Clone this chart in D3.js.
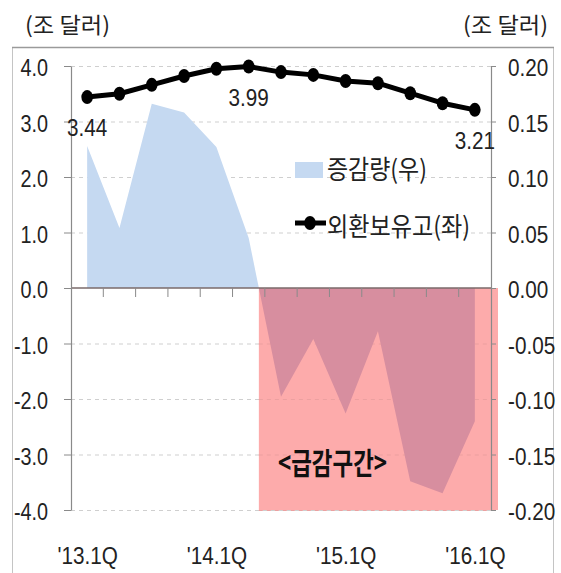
<!DOCTYPE html>
<html>
<head>
<meta charset="utf-8">
<script src="https://cdn.jsdelivr.net/npm/d3@7"></script>
<style>
  body { margin: 0; background: #fff; }
  svg { display: block; }
</style>
</head>
<body>
<svg id="chart" width="561" height="573"></svg>
<script>
// Quarterly FX reserves (trillion USD, left axis) and their quarter-on-quarter change (right axis)
const quarters = ["'13.1Q", "'13.2Q", "'13.3Q", "'13.4Q", "'14.1Q", "'14.2Q", "'14.3Q",
                  "'14.4Q", "'15.1Q", "'15.2Q", "'15.3Q", "'15.4Q", "'16.1Q"];
const reserves = [3.44, 3.50, 3.66, 3.82, 3.95, 3.99, 3.89, 3.84, 3.73, 3.69, 3.51, 3.33, 3.21];
const changes = [0.128, 0.054, 0.166, 0.158, 0.127, 0.045, -0.098, -0.046, -0.113, -0.039, -0.174, -0.185, -0.120];
const labeledPoints = [0, 5, 12];
const leftTicks = [4, 3, 2, 1, 0, -1, -2, -3, -4];
const rightTicks = [0.20, 0.15, 0.10, 0.05, 0, -0.05, -0.10, -0.15, -0.20];
const xTickLabels = ["'13.1Q", "'14.1Q", "'15.1Q", "'16.1Q"];
const unitLabel = "(조 달러)";
const legendArea = "증감량(우)";
const legendLine = "외환보유고(좌)";
const zoneLabel = "<급감구간>";

const NUM = "'Liberation Sans', Arial, sans-serif";
const KR = "'Noto Sans CJK KR', 'Noto Sans', sans-serif";

const svg = d3.select("#chart");
const plotLeft = 71, plotRight = 491, plotTop = 66, plotBottom = 510;

const x = d3.scalePoint().domain(quarters).range([plotLeft, plotRight]).padding(0.5);
const step = x.step();
const yL = d3.scaleLinear().domain([-4, 4]).range([plotBottom, plotTop]);
const yR = d3.scaleLinear().domain([-0.2, 0.2]).range([plotBottom, plotTop]);
const hy = s => s.replace("−", "-");

// squeeze text horizontally to a narrow face
function condense(sel, k) {
  sel.each(function () {
    const w = this.getComputedTextLength();
    this.setAttribute("textLength", w * k);
    this.setAttribute("lengthAdjust", "spacingAndGlyphs");
  });
}

// outer frame
svg.append("rect")
  .attr("x", 12.5).attr("y", 47.5).attr("width", 541).attr("height", 540)
  .attr("fill", "none").attr("stroke", "#c4c4c4").attr("stroke-width", 1);
svg.append("line")
  .attr("x1", 12).attr("x2", 554).attr("y1", 47.5).attr("y2", 47.5)
  .attr("stroke", "#9a9a9a").attr("stroke-width", 1.5);

// unit captions
svg.append("text").attr("x", 25).attr("y", 33)
  .attr("font-family", KR).attr("font-size", 22).attr("fill", "#222")
  .attr("textLength", 85).attr("lengthAdjust", "spacingAndGlyphs")
  .text(unitLabel);
svg.append("text").attr("x", 548).attr("y", 33).attr("text-anchor", "end")
  .attr("font-family", KR).attr("font-size", 22).attr("fill", "#222")
  .attr("textLength", 85).attr("lengthAdjust", "spacingAndGlyphs")
  .text(unitLabel);

// where the change series crosses below zero: start of the sharp-decline zone
let crossX = x(quarters[quarters.length - 1]);
for (let i = 1; i < changes.length; i++) {
  if (changes[i - 1] >= 0 && changes[i] < 0) {
    const t = changes[i - 1] / (changes[i - 1] - changes[i]);
    crossX = x(quarters[i - 1]) + t * step;
    break;
  }
}

// horizontal dashed gridlines
svg.append("g").selectAll("line")
  .data(leftTicks.filter(d => d !== 0))
  .join("line")
  .attr("x1", plotLeft).attr("x2", plotRight)
  .attr("y1", d => yL(d) + 0.5).attr("y2", d => yL(d) + 0.5)
  .attr("stroke", "#cfcfcf").attr("stroke-width", 1.2)
  .attr("stroke-dasharray", "4,4");

// sharp-decline zone
svg.append("rect")
  .attr("x", crossX).attr("y", yR(0))
  .attr("width", plotRight + 7 - crossX).attr("height", yR(-0.2) - yR(0))
  .attr("fill", "#fdabab");

// faint gridlines over the zone
svg.append("g").selectAll("line")
  .data(leftTicks.filter(d => d < 0))
  .join("line")
  .attr("x1", crossX).attr("x2", plotRight)
  .attr("y1", d => yL(d) + 0.5).attr("y2", d => yL(d) + 0.5)
  .attr("stroke", "#eca0a0").attr("stroke-width", 1.2)
  .attr("stroke-dasharray", "4,4");

// change area (right axis), blue outside the zone, mauve inside it
const areaGen = d3.area()
  .x((d, i) => x(quarters[i]))
  .y0(yR(0))
  .y1(d => yR(d));

const defs = svg.append("defs");
defs.append("clipPath").attr("id", "clipOut").append("rect")
  .attr("x", 0).attr("y", 0).attr("width", crossX).attr("height", 573);
defs.append("clipPath").attr("id", "clipIn").append("rect")
  .attr("x", crossX).attr("y", 0).attr("width", 561 - crossX).attr("height", 573);

svg.append("path").datum(changes)
  .attr("d", areaGen).attr("fill", "#c5d9f1")
  .attr("clip-path", "url(#clipOut)");
svg.append("path").datum(changes)
  .attr("d", areaGen).attr("fill", "#d78e9f")
  .attr("clip-path", "url(#clipIn)");

// zero line and category tick marks
svg.append("line")
  .attr("x1", plotLeft).attr("x2", plotRight)
  .attr("y1", yL(0)).attr("y2", yL(0))
  .attr("stroke", "#7a6a6a").attr("stroke-width", 1.6);
svg.append("g").selectAll("line")
  .data(quarters.slice(1))
  .join("line")
  .attr("x1", d => x(d) - step / 2).attr("x2", d => x(d) - step / 2)
  .attr("y1", yL(0)).attr("y2", yL(0) + 9)
  .attr("stroke", "#8a8a8a").attr("stroke-width", 1);

// left axis
const gL = svg.append("g").attr("transform", `translate(${plotLeft},0)`)
  .call(d3.axisLeft(yL).tickValues(leftTicks).tickFormat(d => hy(d3.format(".1f")(d)))
    .tickSize(7).tickSizeOuter(0).tickPadding(16));
gL.select(".domain").attr("stroke", "#8a8a8a").attr("stroke-width", 1.2);
gL.selectAll(".tick line").attr("stroke", "#8a8a8a");
gL.selectAll(".tick text").attr("font-family", NUM).attr("font-size", 23)
  .attr("fill", "#222").attr("dy", "0.42em").call(condense, 0.86);

// right axis
const gR = svg.append("g").attr("transform", `translate(${plotRight},0)`)
  .call(d3.axisRight(yR).tickValues(rightTicks).tickFormat(d => hy(d3.format(".2f")(d)))
    .tickSize(5).tickSizeOuter(0).tickPadding(12));
gR.select(".domain").attr("stroke", "#8a8a8a").attr("stroke-width", 1.2);
gR.selectAll(".tick line").attr("stroke", "#8a8a8a");
gR.selectAll(".tick text").attr("font-family", NUM).attr("font-size", 23)
  .attr("fill", "#222").attr("dy", "0.42em").call(condense, 0.9);

// x labels
const gX = svg.append("g").attr("transform", `translate(0,${yL(-4)})`)
  .call(d3.axisBottom(x).tickValues(xTickLabels).tickSize(0).tickPadding(54));
gX.select(".domain").remove();
gX.selectAll(".tick text").attr("font-family", NUM).attr("font-size", 23)
  .attr("fill", "#222").attr("dy", "0").call(condense, 0.9);

// reserves line with markers
svg.append("path").datum(reserves)
  .attr("d", d3.line().x((d, i) => x(quarters[i])).y(d => yL(d)))
  .attr("fill", "none").attr("stroke", "#000").attr("stroke-width", 5)
  .attr("stroke-linejoin", "round");
svg.append("g").selectAll("ellipse")
  .data(reserves)
  .join("ellipse")
  .attr("cx", (d, i) => x(quarters[i])).attr("cy", d => yL(d))
  .attr("rx", 5.8).attr("ry", 7).attr("fill", "#000");

// value labels
svg.append("g").selectAll("text")
  .data(labeledPoints)
  .join("text")
  .attr("x", i => x(quarters[i]))
  .attr("y", i => yL(reserves[i]) + 39)
  .attr("text-anchor", "middle")
  .attr("font-family", NUM).attr("font-size", 24).attr("fill", "#222")
  .text(i => reserves[i].toFixed(2))
  .call(condense, 0.86);

// legend
const lg = svg.append("g");
lg.append("rect").attr("x", 295).attr("y", 162).attr("width", 28).attr("height", 16)
  .attr("fill", "#c5d9f1");
lg.append("text").attr("x", 327).attr("y", 179)
  .attr("font-family", KR).attr("font-size", 26).attr("fill", "#222")
  .attr("textLength", 100).attr("lengthAdjust", "spacingAndGlyphs")
  .text(legendArea);
lg.append("line").attr("x1", 295).attr("x2", 326).attr("y1", 223).attr("y2", 223)
  .attr("stroke", "#000").attr("stroke-width", 5);
lg.append("ellipse").attr("cx", 310).attr("cy", 223).attr("rx", 5.8).attr("ry", 7)
  .attr("fill", "#000");
lg.append("text").attr("x", 327).attr("y", 236)
  .attr("font-family", KR).attr("font-size", 26).attr("fill", "#222")
  .attr("textLength", 143).attr("lengthAdjust", "spacingAndGlyphs")
  .text(legendLine);

// zone caption
svg.append("text").attr("x", 278).attr("y", 474)
  .attr("font-family", KR).attr("font-size", 30).attr("font-weight", "bold").attr("fill", "#111")
  .attr("textLength", 109).attr("lengthAdjust", "spacingAndGlyphs")
  .text(zoneLabel);
</script>
</body>
</html>
